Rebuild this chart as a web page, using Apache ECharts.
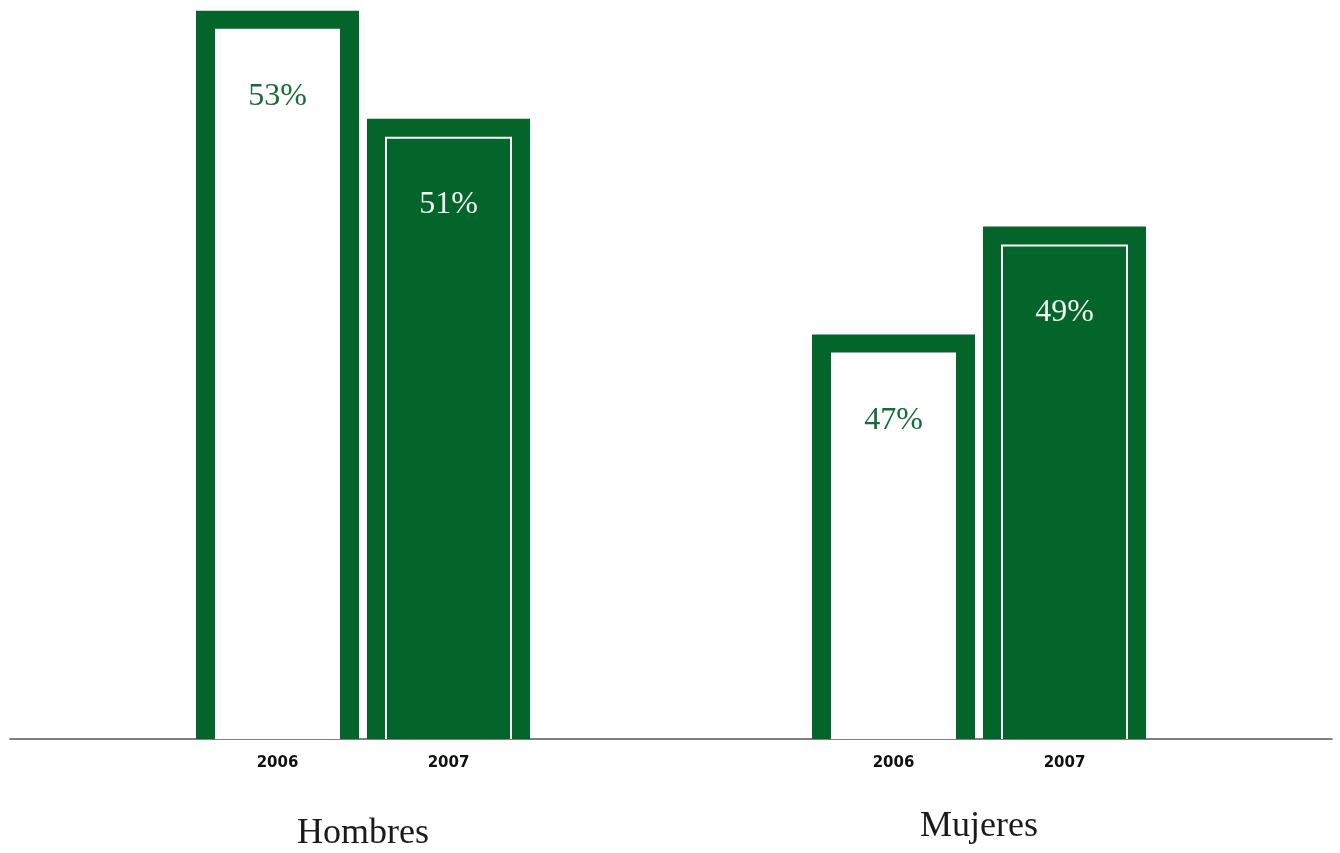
<!DOCTYPE html>
<html>
<head>
<meta charset="utf-8">
<style>
  html, body { margin: 0; padding: 0; background: #ffffff; }
  #chart { width: 1340px; height: 853px; }
</style>
<script src="https://cdn.jsdelivr.net/npm/echarts@6/dist/echarts.min.js"></script>
</head>
<body>
<div id="chart"></div>
<script>
// Share by sex, 2006 vs 2007
const categories = ['Hombres', 'Mujeres'];
const years = ['2006', '2007'];
const values2006 = [53, 47];
const values2007 = [51, 49];

const GREEN = '#03652a';
const Y_MIN = 39.5;
const Y_MAX = 53.2;

const chart = echarts.init(document.getElementById('chart'), null, { renderer: 'canvas' });

// Draws one framed bar: 2006 = white bar inside a thick green frame,
// 2007 = solid green bar with a thin white inner outline.
function makeRenderer(seriesIdx) {
  return function (params, api) {
    const cat = api.value(0);
    const val = api.value(1);
    const top = api.coord([cat, val]);
    const base = api.coord([cat, Y_MIN]);
    const band = api.size([1, 0])[0];
    const barW = band * 163 / 616;
    const gap = band * 8 / 616;
    const cx = top[0] + (seriesIdx === 0 ? -1 : 1) * (barW + gap) / 2;
    const x0 = cx - barW / 2;
    const yTop = top[1];
    const yBase = base[1];
    const frame = 19;
    const children = [
      { type: 'rect', shape: { x: x0, y: yTop, width: barW, height: yBase - yTop }, style: { fill: GREEN } }
    ];
    if (seriesIdx === 0) {
      children.push({
        type: 'rect',
        shape: { x: x0 + frame, y: yTop + 18, width: barW - 2 * frame, height: yBase - yTop - 18 },
        style: { fill: '#ffffff' }
      });
    } else {
      children.push({
        type: 'polyline',
        shape: { points: [[x0 + 19, yBase], [x0 + 19, yTop + 19], [x0 + barW - 19, yTop + 19], [x0 + barW - 19, yBase]] },
        style: { stroke: '#ffffff', lineWidth: 2, fill: null }
      });
    }
    children.push({
      type: 'text',
      style: {
        x: cx, y: yTop + 86,
        text: val + '%',
        align: 'center', verticalAlign: 'middle',
        fill: seriesIdx === 0 ? '#176c37' : '#f2f2f2',
        font: '32px "Liberation Serif", serif'
      }
    });
    children.push({
      type: 'text',
      style: {
        x: cx, y: yBase + 24,
        text: years[seriesIdx],
        align: 'center', verticalAlign: 'middle',
        fill: '#111111',
        font: 'bold 15px "DejaVu Sans", sans-serif'
      }
    });
    return { type: 'group', children: children };
  };
}

const option = {
  backgroundColor: '#ffffff',
  animation: false,
  grid: [
    { left: 55, right: 53, top: 0, height: 739 },
    { left: 10, right: 8, top: 0, height: 739 }
  ],
  xAxis: [
    {
      type: 'category', gridIndex: 0, data: categories,
      axisLine: { show: false }, axisTick: { show: false },
      axisLabel: {
        margin: 70,
        formatter: function (v) { return v === 'Hombres' ? '{h|' + v + '}' : '{m|' + v + '}'; },
        rich: {
          h: { fontFamily: '"Liberation Serif", serif', fontSize: 36, lineHeight: 36, color: '#1a1a1a', padding: [13, 0, 0, 0] },
          m: { fontFamily: '"Liberation Serif", serif', fontSize: 36, lineHeight: 36, color: '#1a1a1a' }
        }
      }
    },
    {
      type: 'value', gridIndex: 1, min: 0, max: 1,
      axisLine: { show: true, lineStyle: { color: '#555555', width: 1.5 } },
      axisTick: { show: false }, axisLabel: { show: false }, splitLine: { show: false }
    }
  ],
  yAxis: [
    { type: 'value', gridIndex: 0, min: Y_MIN, max: Y_MAX, show: false, splitLine: { show: false } },
    { type: 'value', gridIndex: 1, min: 0, max: 1, show: false, splitLine: { show: false } }
  ],
  series: [
    {
      name: years[0], type: 'custom', xAxisIndex: 0, yAxisIndex: 0,
      renderItem: makeRenderer(0),
      encode: { x: 0, y: 1 },
      data: values2006.map((v, i) => [i, v]),
      z: 2
    },
    {
      name: years[1], type: 'custom', xAxisIndex: 0, yAxisIndex: 0,
      renderItem: makeRenderer(1),
      encode: { x: 0, y: 1 },
      data: values2007.map((v, i) => [i, v]),
      z: 2
    }
  ]
};

chart.setOption(option);
</script>
</body>
</html>
